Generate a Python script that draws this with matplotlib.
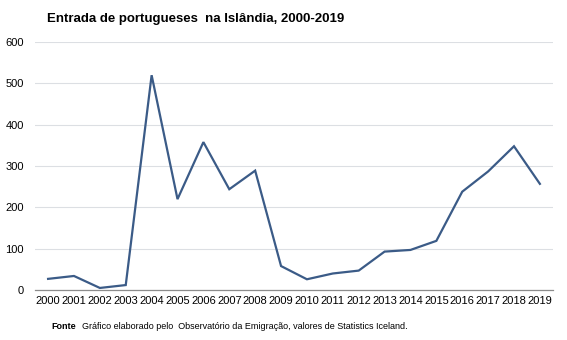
import matplotlib
matplotlib.use('Agg')
from matplotlib import pyplot as plt

plt.rcParams['font.family'] = ['Liberation Sans', 'DejaVu Sans']

anos = [str(a) for a in range(2000, 2020)]
entradas = [27, 34, 5, 12, 520, 220, 358, 244, 289, 58,
            26, 40, 47, 93, 97, 119, 238, 287, 348, 257]
yticks = [0, 100, 200, 300, 400, 500, 600]

fig = plt.figure(figsize=(5.67, 3.4), dpi=100)
ax = fig.add_axes([0.062, 0.147, 0.913, 0.729])

x = list(range(len(anos)))
ax.plot(x, entradas, color='#3b5b87', lw=1.6, solid_joinstyle='miter')

ax.set_xlim(-0.5, len(anos) - 0.5)
ax.set_ylim(0, 600)
ax.set_yticks(yticks)
ax.set_xticks(x)
ax.set_xticklabels(anos)
ax.tick_params(axis='both', length=0, labelsize=8, colors='#000000')
ax.tick_params(axis='y', pad=8)
ax.tick_params(axis='x', pad=4)

ax.grid(axis='y', color='#dcdfe3', lw=0.8)
ax.set_axisbelow(True)
for s in ['top', 'right', 'left']:
    ax.spines[s].set_visible(False)
ax.spines['bottom'].set_color('#8c8c8c')
ax.spines['bottom'].set_linewidth(0.9)

fig.text(0.083, 0.945, 'Entrada de portugueses  na Islândia, 2000-2019',
         fontsize=9.5, fontweight='bold', va='center')
fig.text(0.09, 0.04, 'Fonte', fontsize=6.5, fontweight='bold', va='center')
fig.text(0.145, 0.04, 'Gráfico elaborado pelo  Observatório da Emigração, valores de Statistics Iceland.',
         fontsize=6.5, va='center')

fig.savefig('out.png', dpi=100)
